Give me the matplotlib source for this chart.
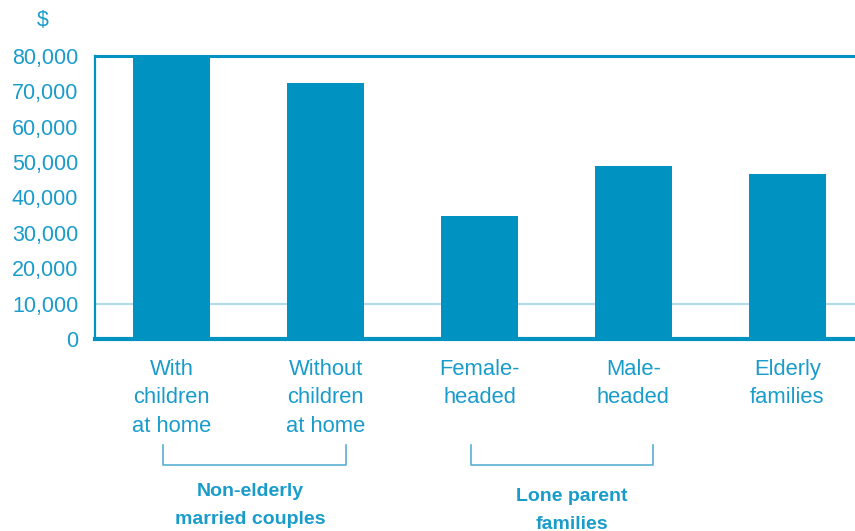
import matplotlib.pyplot as plt
from matplotlib.transforms import blended_transform_factory

plt.rcParams['font.family'] = ['Liberation Sans', 'DejaVu Sans']

# Ingreso medio por tipo de familia
categorias = ['With\nchildren\nat home', 'Without\nchildren\nat home',
              'Female-\nheaded', 'Male-\nheaded', 'Elderly\nfamilies']
ingresos = [80000, 72300, 34700, 48800, 46500]
ticks_y = [0, 10000, 20000, 30000, 40000, 50000, 60000, 70000, 80000]
grupos = ['Non-elderly\nmarried couples', 'Lone parent\nfamilies']

azul = '#0093c1'
texto = '#1a9ccb'
claro = '#b3dcea'
corchete = '#5aaed3'

fig = plt.figure(figsize=(8.55, 5.31), dpi=100)
ax = fig.add_axes([0.111, 0.3616, 0.889, 0.5334])

x = list(range(len(categorias)))
ax.bar(x, ingresos, width=0.5, color=azul, zorder=3)
ax.axhline(10000, color=claro, lw=1.6, zorder=1)

ax.set_xlim(-0.5, 4.44)
ax.set_ylim(0, 80000)
ax.set_yticks(ticks_y)
ax.set_yticklabels([f'{v:,}' for v in ticks_y], color=texto, fontsize=15.5)
ax.set_xticks(x)
ax.set_xticklabels(categorias, color=texto, fontsize=15.8, linespacing=1.45,
                   va='top', ha='center')
ax.tick_params(axis='x', length=0, pad=14.5)
ax.tick_params(axis='y', length=0, pad=12)

ax.spines['right'].set_visible(False)
ax.spines['top'].set_color(azul)
ax.spines['top'].set_linewidth(2.2)
ax.spines['left'].set_color(azul)
ax.spines['left'].set_linewidth(1.6)
ax.spines['bottom'].set_color(azul)
ax.spines['bottom'].set_linewidth(3)

fig.text(43 / 855, 1 - 20 / 531, '$', color=texto, fontsize=15.5,
         ha='center', va='center')

# Corchetes que agrupan las categorías
tr = blended_transform_factory(ax.transData, fig.transFigure)
y_arriba, y_abajo = 1 - 445 / 531, 1 - 465 / 531
for x0, x1, xc, y_txt, etiqueta in [(-0.055, 1.13, 0.51, 483, grupos[0]),
                                    (1.945, 3.127, 2.60, 488, grupos[1])]:
    ax.plot([x0, x0, x1, x1], [y_arriba, y_abajo, y_abajo, y_arriba],
            color=corchete, lw=1.2, transform=tr, clip_on=False)
    ax.text(xc, 1 - y_txt / 531, etiqueta, transform=tr, ha='center', va='top',
            color=texto, fontsize=14, fontweight='bold', linespacing=1.82)

fig.savefig('out.png', dpi=100, facecolor='white')
